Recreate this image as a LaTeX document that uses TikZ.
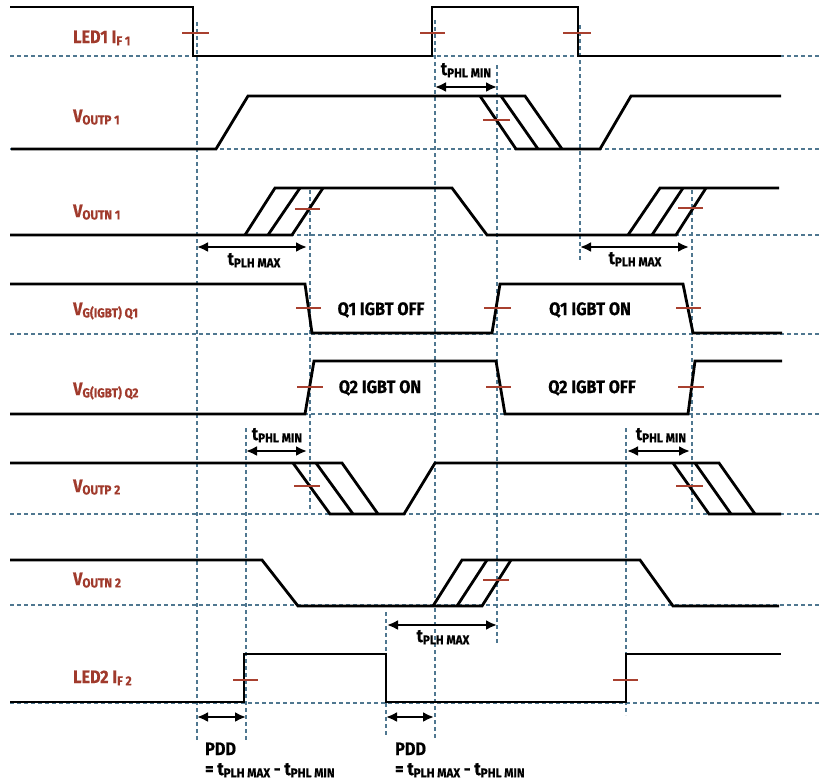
\documentclass[tikz,border=0pt]{standalone}
\usepackage{fontspec}
\setmainfont{Fira Sans}[FakeStretch=0.9, BoldFeatures={FakeBold=0.6}]
\usetikzlibrary{arrows.meta}
\definecolor{lab}{HTML}{A03A2C}
\definecolor{tickc}{HTML}{A8402F}
\definecolor{gridc}{HTML}{4F7790}
\newcommand{\sbx}[1]{\raisebox{-0.25ex}{\fontsize{13}{13}\selectfont\bfseries #1}}
\begin{document}
\begin{tikzpicture}[x=1pt,y=-1pt,
  sig/.style={line width=2.8pt, black, line join=miter},
  grd/.style={gridc, line width=1.2pt, dash pattern=on 4pt off 3pt},
  tk/.style={tickc, line width=2.5pt},
  dim/.style={line width=2.5pt, {Latex[length=11pt,width=10pt]}-{Latex[length=11pt,width=10pt]}},
  lbl/.style={text=lab, font=\fontsize{18}{21}\selectfont\bfseries, inner sep=0pt, anchor=base west},
  st/.style={font=\fontsize{18}{21}\selectfont\bfseries, inner sep=0pt, anchor=base}
]
\useasboundingbox (0,0) rectangle (819,782);

% horizontal grid
\foreach \yy in {56,149,235,334,414,514,605,703}
  \draw[grd] (10,\yy) -- (819,\yy);
% vertical grid
\draw[grd] (197,22) -- (197,740);
\draw[grd] (435,20) -- (435,740);
\draw[grd] (497,65) -- (497,645);
\draw[grd] (580,25) -- (580,262);
\draw[grd] (310,190) -- (310,512);
\draw[grd] (692,190) -- (692,512);
\draw[grd] (246,428) -- (246,740);
\draw[grd] (626,428) -- (626,715);
\draw[grd] (386,612) -- (386,735);

% 1 LED1
\draw[sig] (10,7) -- (193,7) -- (193,56) -- (432,56) -- (432,7) -- (578,7) -- (578,56) -- (781,56);
\draw[tk] (182,33) -- (209,33);
\draw[tk] (420,33) -- (445,33);
\draw[tk] (563,33) -- (591,33);

% 2 VOUTP1
\draw[sig] (11,149) -- (216,149) -- (248,96) -- (525,96) -- (562,149);
\draw[sig] (480,96) -- (516,149) -- (600,149) -- (631,96) -- (781,96);
\draw[sig] (501,96) -- (538,149);
\draw[tk] (483,120) -- (510,120);

% 3 VOUTN1
\draw[sig] (10,235) -- (292,235) -- (323,188);
\draw[sig] (245,235) -- (275,188) -- (452,188) -- (487,235) -- (676,235) -- (706,188);
\draw[sig] (628,235) -- (660,188) -- (779,188);
\draw[sig] (268,235) -- (300,188);
\draw[sig] (652,235) -- (683,188);
\draw[tk] (295,209) -- (320,209);
\draw[tk] (678,208) -- (703,208);

% 4 VG Q1
\draw[sig] (10,284) -- (305,284) -- (312,333) -- (492,333) -- (500,284) -- (683,284) -- (693,333) -- (782,333);
\draw[tk] (296,308) -- (321,308);
\draw[tk] (484,308) -- (511,308);
\draw[tk] (676,308) -- (701,308);

% 5 VG Q2
\draw[sig] (10,414) -- (305,414) -- (314,361) -- (496,361) -- (505,414) -- (688,414) -- (695,361) -- (782,361);
\draw[tk] (297,387) -- (323,387);
\draw[tk] (486,387) -- (511,387);
\draw[tk] (678,387) -- (704,387);

% 6 VOUTP2
\draw[sig] (10,463) -- (342,463) -- (378,514);
\draw[sig] (293,463) -- (330,514) -- (404,514) -- (435,463) -- (719,463) -- (755,514);
\draw[sig] (673,463) -- (709,514) -- (781,514);
\draw[sig] (316,463) -- (353,514);
\draw[sig] (695,463) -- (731,514);
\draw[tk] (294,486) -- (320,486);
\draw[tk] (676,486) -- (703,486);

% 7 VOUTN2
\draw[sig] (10,560) -- (262,560) -- (298,606) -- (482,606) -- (511,560);
\draw[sig] (433,606) -- (462,560) -- (640,560) -- (673,606) -- (779,606);
\draw[sig] (457,606) -- (487,560);
\draw[tk] (483,580) -- (509,580);

% 8 LED2
\draw[sig] (10,702) -- (244,702) -- (244,654) -- (386,654) -- (386,702) -- (626,702) -- (626,654) -- (781,654);
\draw[tk] (233,680) -- (258,680);
\draw[tk] (613,680) -- (638,680);

% dimension arrows
\draw[dim] (435,87) -- (497,87);
\draw[dim] (197,247) -- (307,247);
\draw[dim] (580,247) -- (689,247);
\draw[dim] (246,451) -- (307,451);
\draw[dim] (627,451) -- (690,451);
\draw[dim] (387,625) -- (497,625);
\draw[dim] (197,717) -- (246,717);
\draw[dim] (386,717) -- (434,717);

% signal labels
\node[lbl] (l1) at (73,43) {LED1 I\sbx{F 1}};
\node[lbl] (l2) at (73,122) {V\sbx{OUTP 1}};
\node[lbl] (l3) at (73,217) {V\sbx{OUTN 1}};
\node[lbl] (l4) at (73,315) {V\sbx{G(IGBT) Q1}};
\node[lbl] (l5) at (73,395) {V\sbx{G(IGBT) Q2}};
\node[lbl] (l6) at (73,492) {V\sbx{OUTP 2}};
\node[lbl] (l7) at (73,585) {V\sbx{OUTN 2}};
\node[lbl] (l8) at (73,683) {LED2 I\sbx{F 2}};

% state labels
\node[st] (s1) at (381,315) {Q1 IGBT OFF};
\node[st] (s2) at (380,393) {Q2 IGBT ON};
\node[st] (s3) at (590,315) {Q1 IGBT ON};
\node[st] (s4) at (592,393) {Q2 IGBT OFF};

% timing labels
\node[st] (t1) at (466,75) {t\sbx{PHL MIN}};
\node[st] (t2) at (254,265) {t\sbx{PLH MAX}};
\node[st] (t3) at (635,264) {t\sbx{PLH MAX}};
\node[st] (t4) at (277,440) {t\sbx{PHL MIN}};
\node[st] (t5) at (661,440) {t\sbx{PHL MIN}};
\node[st] (t6) at (443,642) {t\sbx{PLH MAX}};

\node[st, anchor=base west] (p1) at (205,755) {PDD};
\node[st, anchor=base west] (e1) at (205,775) {= t\sbx{PLH MAX} - t\sbx{PHL MIN}};
\node[st, anchor=base west] (p2) at (395,755) {PDD};
\node[st, anchor=base west] (e2) at (395,775) {= t\sbx{PLH MAX} - t\sbx{PHL MIN}};
\end{tikzpicture}
\end{document}
